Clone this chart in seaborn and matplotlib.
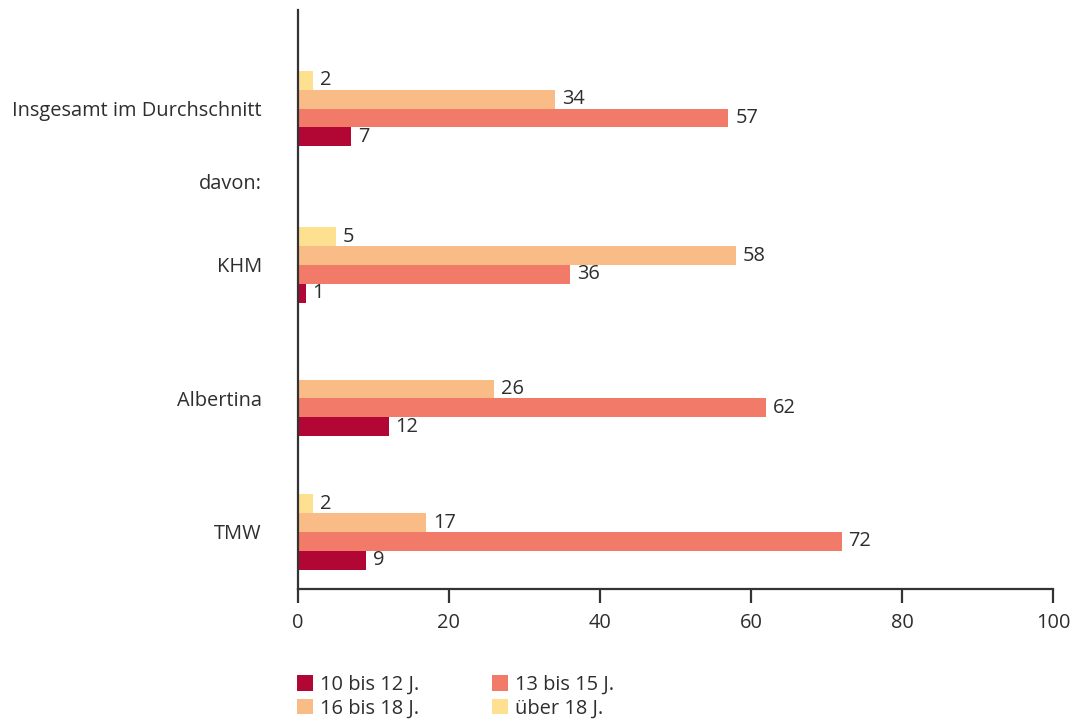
import numpy as np
import pandas as pd
import matplotlib
matplotlib.use("Agg")
import matplotlib.pyplot as plt
from matplotlib.patches import Patch
import seaborn as sns

# Data (percent of visitors per age group)
kategorien = ["Insgesamt im Durchschnitt", "KHM", "Albertina", "TMW"]
gruppen = ["10 bis 12 J.", "13 bis 15 J.", "16 bis 18 J.", "über 18 J."]
werte_10_12 = [7, 1, 12, 9]
werte_13_15 = [57, 36, 62, 72]
werte_16_18 = [34, 58, 26, 17]
werte_ueber_18 = [2, 5, np.nan, 2]
farben = ["#b20634", "#f27a69", "#f9bc87", "#fde090"]
x_ticks = [0, 20, 40, 60, 80, 100]

# vertical slot of each group; "davon:" sits between the total and the museums
slots = {"Insgesamt im Durchschnitt": 0.0, "KHM": 1.172, "Albertina": 2.172, "TMW": 3.172}
davon_slot = 0.55

sns.set_style("white")
plt.rcParams["font.family"] = ["Open Sans", "DejaVu Sans"]
textfarbe = "#2e2e2e"
fs = 14.4

rows = []
for g, werte in zip(gruppen, [werte_10_12, werte_13_15, werte_16_18, werte_ueber_18]):
    for k, v in zip(kategorien, werte):
        rows.append({"Kategorie": k, "Gruppe": g, "Anteil": v, "pos": slots[k]})
df = pd.DataFrame(rows).dropna()

fig = plt.figure(figsize=(10.82, 7.23), dpi=100)
ax = fig.add_axes([298 / 1082, 1 - 589 / 723, 755 / 1082, 579 / 723])

palette = dict(zip(gruppen, farben))
# top bar of each group is "über 18", bottom one is "10 bis 12"
sns.barplot(data=df, x="Anteil", y="pos", hue="Gruppe", hue_order=gruppen[::-1],
            orient="y", native_scale=True, width=0.562, palette=palette,
            errorbar=None, legend=False, saturation=1, linewidth=0, ax=ax)

for c in ax.containers:
    ax.bar_label(c, fmt="%g", padding=5, fontsize=fs, color=textfarbe)

ax.set_xlim(0, 100)
ax.set_ylim(3.599, -0.738)
ax.set_xticks(x_ticks)
ax.set_xticklabels([str(t) for t in x_ticks])
yt = [slots[kategorien[0]], davon_slot] + [slots[k] for k in kategorien[1:]]
ax.set_yticks(yt)
ax.set_yticklabels([kategorien[0], "davon:"] + kategorien[1:])
ax.set_xlabel("")
ax.set_ylabel("")

sns.despine(ax=ax)
for s in ["left", "bottom"]:
    ax.spines[s].set_color("#333333")
    ax.spines[s].set_linewidth(1.6)
ax.tick_params(axis="x", bottom=True, direction="out", length=10, width=1.6,
               color="#333333", pad=7, labelsize=fs, labelcolor=textfarbe)
ax.tick_params(axis="y", left=False, length=0, pad=26, labelsize=fs, labelcolor=textfarbe)

# legend in two columns, row-wise order
order = [gruppen[0], gruppen[2], gruppen[1], gruppen[3]]
handles = [Patch(facecolor=palette[g], edgecolor="none") for g in order]
fig.legend(handles, order, ncol=2, loc="upper left",
           bbox_to_anchor=(297 / 1082, 1 - 675 / 723), frameon=False,
           fontsize=fs, handlelength=0.8, handleheight=0.8, handletextpad=0.35,
           columnspacing=3.65, labelspacing=0.18, borderpad=0, borderaxespad=0,
           labelcolor=textfarbe)

fig.savefig("out.png", dpi=100)
